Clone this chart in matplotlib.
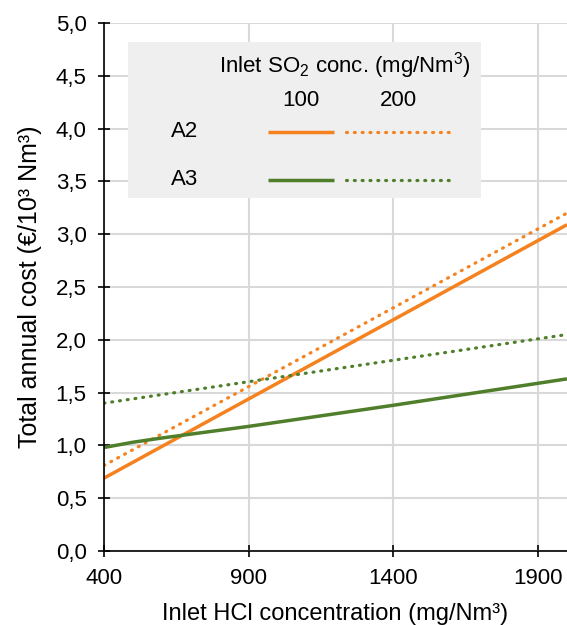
import matplotlib
matplotlib.use("Agg")
import matplotlib.pyplot as plt
from matplotlib.patches import Rectangle
from matplotlib.lines import Line2D
from matplotlib.ticker import FuncFormatter

plt.rcParams["font.family"] = ["Liberation Sans", "DejaVu Sans"]
plt.rcParams["mathtext.fontset"] = "custom"
plt.rcParams["mathtext.rm"] = "Liberation Sans"
plt.rcParams["mathtext.default"] = "regular"

# Inlet HCl concentration (mg/Nm3)
hcl = [400, 2000]
a2_100 = [0.69, 3.09]
a2_200 = [0.81, 3.20]
a3_200 = [1.40, 2.05]

hcl_a3 = [400, 500, 600, 900, 1400, 2000]
a3_100 = [0.98, 1.03, 1.07, 1.18, 1.38, 1.63]

so2_levels = ["100", "200"]
cases = ["A2", "A3"]

orange = "#f5821f"
green = "#4f7f2a"
FS = 16
DOTS = (0, (0.3, 2.15))
LW = 2.5
LW_DOT = 2.3

fig = plt.figure(figsize=(5.67, 6.25), dpi=100)
ax = fig.add_axes([0.1834, 0.1184, 0.8166, 0.8448])

ax.plot(hcl, a2_100, color=orange, lw=LW, solid_capstyle="butt")
ax.plot(hcl, a2_200, color=orange, lw=LW_DOT, linestyle=DOTS, dash_capstyle="round")
ax.plot(hcl_a3, a3_100, color=green, lw=LW, solid_capstyle="butt")
ax.plot(hcl, a3_200, color=green, lw=LW_DOT, linestyle=DOTS, dash_capstyle="round")

ax.set_xlim(400, 2000)
ax.set_ylim(0, 5)
ax.set_xticks([400, 900, 1400, 1900])
ax.set_yticks([i * 0.5 for i in range(11)])
ax.yaxis.set_major_formatter(FuncFormatter(lambda v, p: f"{v:.1f}".replace(".", ",")))
ax.grid(True, color="#d9d9d9", lw=1.5)
ax.set_axisbelow(True)
for s in ["top", "right"]:
    ax.spines[s].set_visible(False)
for s in ["left", "bottom"]:
    ax.spines[s].set_linewidth(1.2)
ax.tick_params(direction="inout", length=9, width=1.2, labelsize=FS)
ax.tick_params(axis="x", pad=8)
ax.tick_params(axis="y", pad=8)
ax.set_xlabel("Inlet HCl concentration (mg/Nm³)", fontsize=17, labelpad=10)
ax.set_ylabel("Total annual cost (€/10³ Nm³)", fontsize=18, labelpad=10)

# custom legend table
T = ax.transAxes
ax.add_patch(Rectangle((0.052, 0.669), 0.762, 0.295, transform=T,
                       facecolor="#efefef", edgecolor="none", zorder=3))
ax.text(0.521, 0.919, r"Inlet SO$_2$ conc. (mg/Nm$^3$)", transform=T,
        ha="center", va="center", fontsize=FS, zorder=4)
col_x = [(0.354, 0.497), (0.523, 0.749)]
col_styles = [("-", LW), (DOTS, LW_DOT)]
for (x0, x1), lab in zip(col_x, so2_levels):
    ax.text((x0 + x1) / 2, 0.854, lab, transform=T, ha="center", va="center",
            fontsize=FS, zorder=4)
for case, yy, col in zip(cases, [0.794, 0.703], [orange, green]):
    ax.text(0.173, yy, case, transform=T, ha="center", va="center",
            fontsize=FS, zorder=4)
    for (x0, x1), (ls, w) in zip(col_x, col_styles):
        ax.add_line(Line2D([x0, x1], [yy, yy], transform=T, color=col, lw=w,
                           linestyle=ls, solid_capstyle="butt",
                           dash_capstyle="round", zorder=4))

fig.savefig("out.png", dpi=100)
